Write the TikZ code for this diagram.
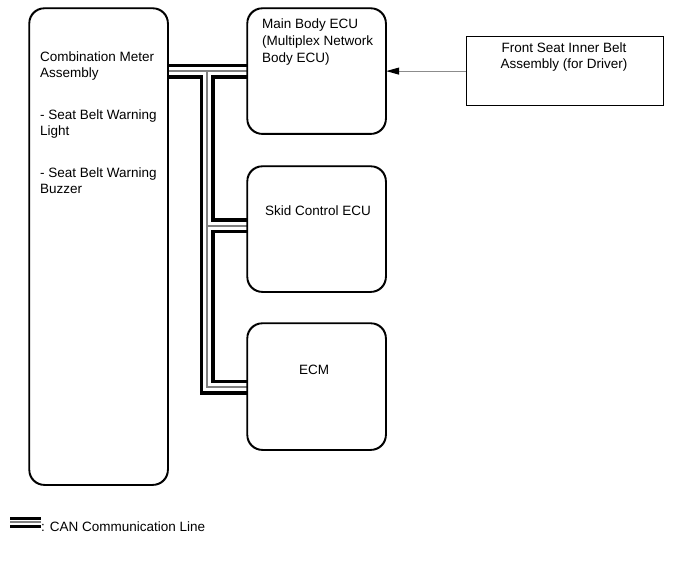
\documentclass[tikz,border=0pt]{standalone}
\usepackage{fontspec}
\setmainfont{Liberation Sans}
\usetikzlibrary{arrows.meta}
\begin{document}
\begin{tikzpicture}[x=1pt,y=-1pt,
  box/.style={draw, line width=1.2pt, rounded corners=15pt, inner sep=0pt},
  sqbox/.style={draw, line width=1.2pt, inner sep=0pt},
  txt/.style={inner sep=0pt, align=left, font=\fontsize{13.5}{15.5}\selectfont},
  ctxt/.style={inner sep=0pt, align=center, font=\fontsize{13.5}{16}\selectfont},
  busblack/.style={line width=15pt, black},
  buswhite/.style={line width=8pt, white},
  busgray/.style={line width=1.2pt, black!50}]
\useasboundingbox (0,0) rectangle (691,564);
% boxes
\node[box, minimum width=138pt, minimum height=476pt, anchor=north west] (cm) at (29,8) {};
\node[box, minimum width=138pt, minimum height=125pt, anchor=north west] (main) at (247,8) {};
\node[box, minimum width=138pt, minimum height=125pt, anchor=north west] (skid) at (247,166) {};
\node[box, minimum width=138pt, minimum height=126pt, anchor=north west] (ecm) at (247,323) {};
\node[sqbox, minimum width=197pt, minimum height=69pt, anchor=north west] (front) at (466,36) {};
% CAN bus
\coordinate (jx) at (207,0);
\coordinate (skidin) at (247,226);
\coordinate (ecmin) at (247,387);
\foreach \s in {busblack,buswhite,busgray}{
  \draw[\s] (cm.east |- main.west) -- (main.west)
            (jx |- main.west) -- (jx |- ecmin) -- (ecmin)
            (jx |- skidin) -- (skidin);
}
% redraw box borders on top
\draw[line width=1.2pt, rounded corners=15pt] (cm.north west) rectangle (cm.south east);
\draw[line width=1.2pt, rounded corners=15pt] (main.north west) rectangle (main.south east);
\draw[line width=1.2pt, rounded corners=15pt] (skid.north west) rectangle (skid.south east);
\draw[line width=1.2pt, rounded corners=15pt] (ecm.north west) rectangle (ecm.south east);
% arrow
\draw[line width=1pt, black!45, -{Triangle[length=13pt,width=7pt,color=black]}] (front.west) -- (main.east);
% texts
\node[txt, anchor=north west] (cmt1) at (40,52) {Combination Meter\\Assembly};
\node[txt, anchor=north west] (cmt2) at (40,110) {- Seat Belt Warning\\Light};
\node[txt, anchor=north west] (cmt3) at (40,168) {- Seat Belt Warning\\Buzzer};
\node[txt, anchor=north west, font=\fontsize{13.5}{17}\selectfont] (maint) at (262,18.5) {Main Body ECU\\(Multiplex Network\\Body ECU)};
\node[ctxt] (frontt) at (564,57.5) {Front Seat Inner Belt\\Assembly (for Driver)};
\node[txt] (skidt) at (318,210.5) {Skid Control ECU};
\node[txt] (ecmt) at (314,370) {ECM};
% legend
\coordinate (lega) at (10,522);
\coordinate (legb) at (41,522);
\draw[line width=11pt, black] (lega) -- (legb);
\draw[line width=5pt, white] (lega) -- (legb);
\draw[line width=1.2pt, black!50] (lega) -- (legb);
\node[txt, anchor=west] (legt) at (41,527) {: CAN Communication Line};
\end{tikzpicture}
\end{document}
